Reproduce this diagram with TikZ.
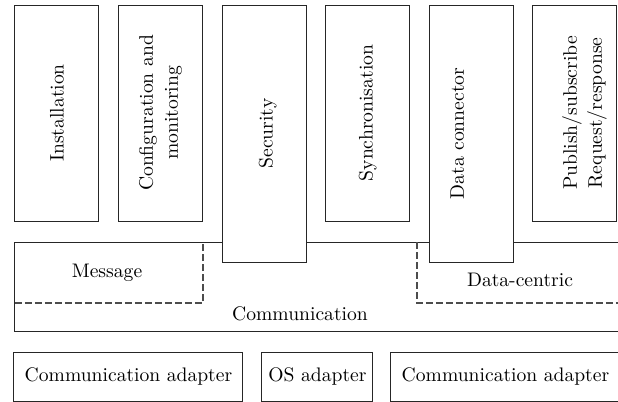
\documentclass[tikz,border=0pt]{standalone}
\usepackage{tikz}
\usetikzlibrary{positioning}

\begin{document}
\begin{tikzpicture}[
  x=0.5pt, y=-0.5pt,
  every node/.style={font=\fontsize{9.8pt}{12.5pt}\selectfont},
  box/.style={draw=black!85, line width=0.5pt, fill=white, inner sep=0pt, outer sep=0pt},
  mod/.style={box, minimum width=42pt, minimum height=108pt},
  tallmod/.style={box, minimum width=42pt, minimum height=128.5pt},
  adapt/.style={box, minimum height=24.5pt},
  vlab/.style={rotate=90, align=center, inner sep=0pt},
  sub/.style={draw=black!70, line width=0.55pt, dash pattern=on 3.5pt off 1.5pt},
]
  \useasboundingbox (0,0) rectangle (618,402);
  \clip (0,0) rectangle (618,402);
  % communication layer
  \node[box, minimum width=305pt, minimum height=44.5pt, anchor=north west] (comm) at (15,242) {};
  \coordinate (msg-sw) at (15,303);
  \coordinate (msg-ne) at (203,242);
  \coordinate (dc-nw) at (417,242);
  \coordinate (dc-se) at (625,303);
  \draw[sub] (msg-sw) -| (msg-ne);
  \draw[sub] (dc-nw) |- (dc-se);
  \node (msg) at (107,273) {Message};
  \node (dcen) at (520,280) {Data-centric};
  \node (commlab) at (300,314) {Communication};
  % modules
  \node[mod, anchor=north west] (inst) at (15,5) {};
  \node[mod, below right=0pt and 9.8pt of inst.north east] (conf) {};
  \node[tallmod, below right=0pt and 9.8pt of conf.north east] (sec) {};
  \node[mod, below right=0pt and 9.8pt of sec.north east] (sync) {};
  \node[tallmod, below right=0pt and 9.8pt of sync.north east] (dcon) {};
  \node[mod, below right=0pt and 9.8pt of dcon.north east] (pub) {};
  \node[vlab] (inst-t) at (inst) {Installation};
  \node[vlab] (conf-t) at (conf) {Configuration and\\monitoring};
  \node[vlab, yshift=-1.75pt] (sec-t) at (sec) {Security};
  \node[vlab] (sync-t) at (sync) {Synchronisation};
  \node[vlab, yshift=7pt] (dcon-t) at (dcon) {Data connector};
  \node[vlab, yshift=-4.75pt] (pub-t) at (pub) {Publish/subscribe\\Request/response};
  % adapters
  \node[adapt, minimum width=114.5pt, anchor=north west] (ca1) at (14,352) {Communication adapter};
  \node[adapt, minimum width=55.5pt, right=9.5pt of ca1] (os) {OS adapter};
  \node[adapt, minimum width=114.5pt, right=9pt of os] (ca2) {Communication adapter};
\end{tikzpicture}
\end{document}
